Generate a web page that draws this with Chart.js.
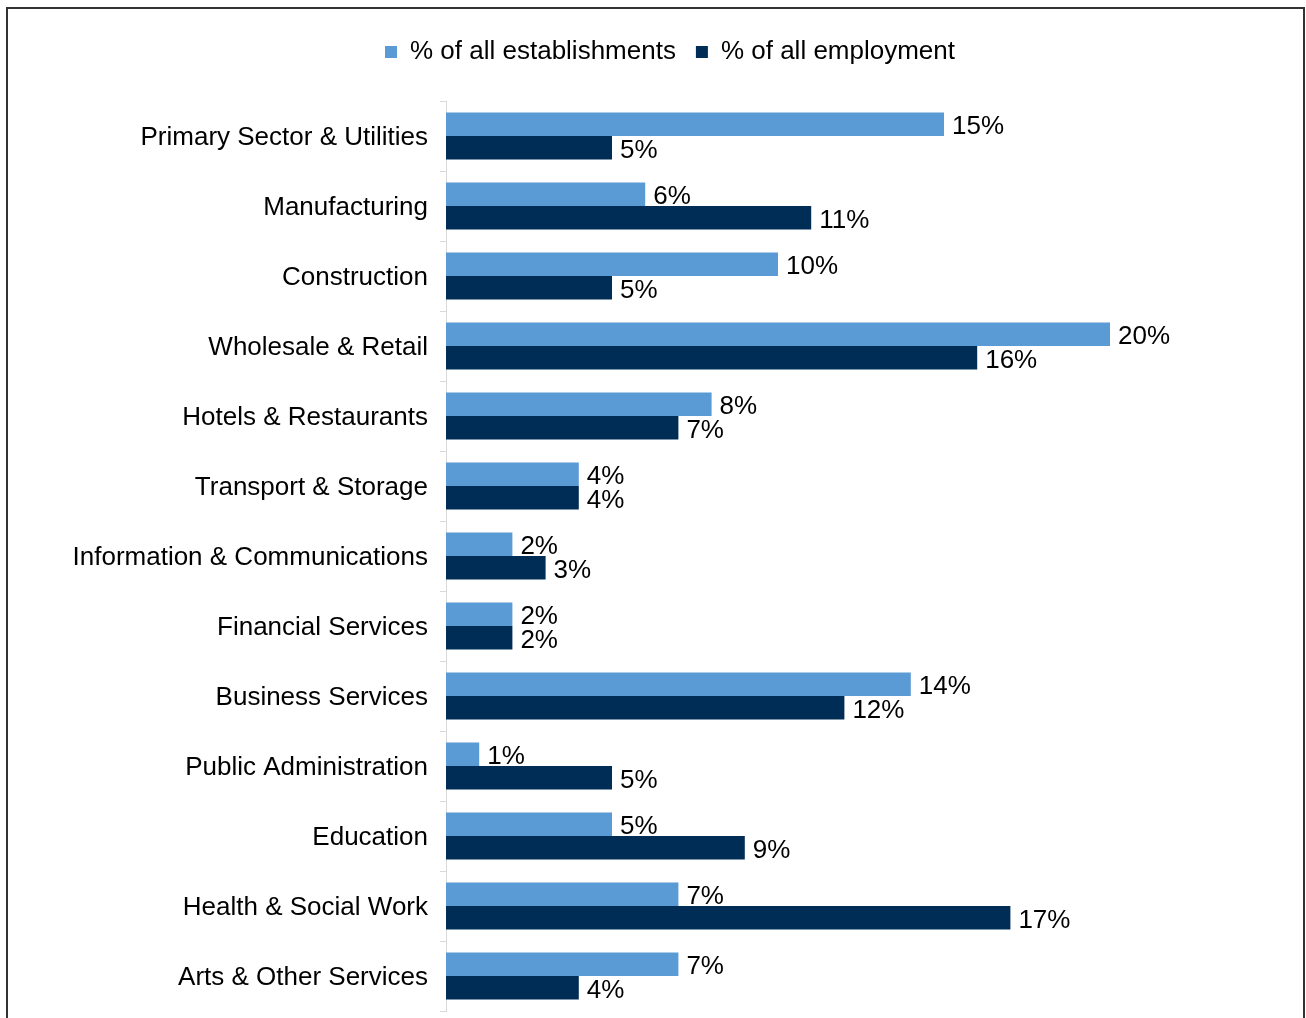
<!DOCTYPE html>
<html>
<head>
<meta charset="utf-8">
<title>Establishments and employment by sector</title>
<script src="https://cdn.jsdelivr.net/npm/chart.js@4.4.1/dist/chart.umd.min.js"></script>
<style>
    html, body { margin: 0; padding: 0; background: #fff; }
    #wrap { position: relative; width: 1306px; height: 1018px; overflow: hidden; }
    #frame {
        position: absolute; left: 6px; top: 7px;
        width: 1295px; height: 1100px;
        border: 2px solid #333;
    }
    #sectorChart { position: absolute; left: 0; top: 0; }
</style>
</head>
<body>
<div id="wrap">
    <div id="frame"></div>
    <canvas id="sectorChart" width="1306" height="1018"></canvas>
</div>
<script>
const sectors = [
    'Primary Sector & Utilities',
    'Manufacturing',
    'Construction',
    'Wholesale & Retail',
    'Hotels & Restaurants',
    'Transport & Storage',
    'Information & Communications',
    'Financial Services',
    'Business Services',
    'Public Administration',
    'Education',
    'Health & Social Work',
    'Arts & Other Services'
];
const establishmentsPct = [15, 6, 10, 20, 8, 4, 2, 2, 14, 1, 5, 7, 7];
const employmentPct = [5, 11, 5, 16, 7, 4, 3, 2, 12, 5, 9, 17, 4];

const FONT = 'Arial, "Liberation Sans", sans-serif';
const ctx = document.getElementById('sectorChart').getContext('2d');

// --- extra room between the legend and the bars ---
const legendGap = {
    id: 'legendGap',
    beforeInit(chart) {
        const fit = chart.legend.fit;
        chart.legend.fit = function () {
            fit.bind(chart.legend)();
            this.height += 26;
        };
    }
};

// --- value labels at the end of each bar ---
const barValues = {
    id: 'barValues',
    afterDatasetsDraw(chart) {
        const c = chart.ctx;
        c.save();
        c.font = '26px ' + FONT;
        c.fillStyle = '#000';
        c.textAlign = 'left';
        c.textBaseline = 'middle';
        chart.data.datasets.forEach((ds, i) => {
            chart.getDatasetMeta(i).data.forEach((bar, j) => {
                c.fillText(ds.data[j] + '%', bar.x + 8, bar.y + 3);
            });
        });
        c.restore();
    }
};

new Chart(ctx, {
    type: 'bar',
    data: {
        labels: sectors,
        datasets: [
            {
                label: '% of all establishments',
                data: establishmentsPct,
                backgroundColor: '#5B9BD5'
            },
            {
                label: '% of all employment',
                data: employmentPct,
                backgroundColor: '#002D55'
            }
        ]
    },
    options: {
        indexAxis: 'y',
        responsive: false,
        animation: false,
        devicePixelRatio: 1,
        categoryPercentage: 0.671,
        barPercentage: 1.0,
        layout: { padding: { top: 19, left: 64, right: 30, bottom: 7 } },
        plugins: {
            legend: {
                position: 'top',
                labels: {
                    color: '#000',
                    font: { family: FONT, size: 26 },
                    boxWidth: 12,
                    boxHeight: 12,
                    padding: 20
                }
            },
            tooltip: { enabled: false }
        },
        scales: {
            x: {
                type: 'linear',
                min: 0,
                max: 25,
                display: false
            },
            y: {
                afterFit(scale) {
                    scale.width = 382;
                    scale.paddingTop = 0;
                    scale.paddingBottom = 0;
                },
                ticks: {
                    color: '#000',
                    font: { family: FONT, size: 26 },
                    padding: 12,
                    labelOffset: 2
                },
                grid: {
                    drawOnChartArea: false,
                    tickLength: 6,
                    color: '#d9d9d9'
                },
                border: { color: '#d9d9d9', width: 1 }
            }
        }
    },
    plugins: [legendGap, barValues]
});
</script>
</body>
</html>
